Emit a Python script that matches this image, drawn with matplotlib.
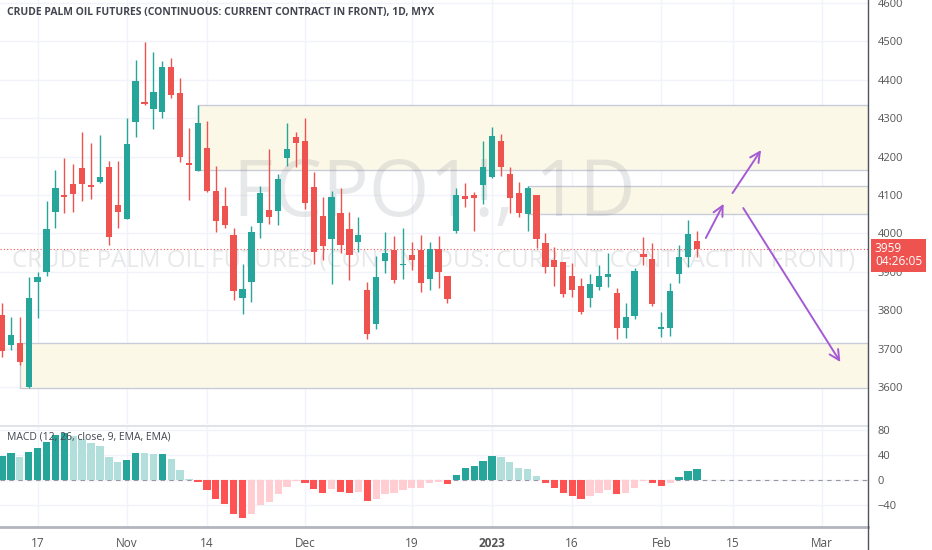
import numpy as np
import matplotlib.pyplot as plt
from matplotlib.patches import Rectangle
from matplotlib.lines import Line2D

plt.rcParams['font.family'] = ['Open Sans', 'DejaVu Sans']

# daily candles, FCPO1!
opens = [3788, 3709, 3715, 3600, 3873, 3899, 4056, 4099, 4129, 4170,
         4125, 4134, 4173, 4074, 4037, 4290, 4342, 4324, 4316, 4433,
         4366, 4183, 4163, 4222, 4110, 4071, 3996, 3832, 3873, 4027,
         4061, 4058, 4196, 4251, 4240, 4121, 4045, 3985, 4053, 4011,
         3978, 3853, 3764, 3928, 3957, 3917, 3944, 3957, 3881, 3959,
         3889, 4006, 4097, 4100, 4126, 4147, 4240, 4155, 4105, 4051,
         4100, 3975, 3931, 3926, 3889, 3863, 3832, 3860, 3886, 3845,
         3754, 3785, 3946, 3933, 3752, 3754, 3894, 3939, 3980]
highs = [3819, 3782, 3782, 3886, 3899, 4084, 4165, 4196, 4181, 4264,
         4235, 4256, 4189, 4189, 4300, 4452, 4498, 4472, 4449, 4457,
         4405, 4274, 4334, 4293, 4176, 4121, 4014, 3920, 4019, 4123,
         4220, 4155, 4287, 4264, 4300, 4160, 4095, 4110, 4118, 4056,
         4043, 3873, 3941, 4004, 3993, 4014, 3978, 3996, 3978, 3993,
         3889, 4118, 4131, 4108, 4240, 4277, 4259, 4173, 4134, 4123,
         4100, 4001, 3965, 3926, 3923, 3884, 3894, 3918, 3949, 3858,
         3819, 3910, 3991, 3975, 3795, 3871, 3970, 4035, 4006]
lows = [3678, 3696, 3657, 3597, 3780, 3889, 4014, 4053, 4056, 4084,
        4090, 4131, 3970, 4014, 4037, 4251, 4334, 4272, 4300, 4353,
        4186, 4087, 4163, 4108, 4004, 4014, 3827, 3790, 3821, 3988,
        4025, 4022, 4176, 4173, 4064, 3920, 3931, 3868, 3949, 3879,
        3952, 3725, 3751, 3897, 3871, 3881, 3905, 3847, 3853, 3858,
        3819, 4001, 4069, 4006, 4077, 4144, 4150, 4053, 4043, 4006,
        3962, 3897, 3863, 3834, 3834, 3790, 3808, 3853, 3860, 3725,
        3728, 3777, 3918, 3811, 3730, 3733, 3871, 3912, 3939]
closes = [3694, 3735, 3665, 3832, 3886, 4011, 4118, 4095, 4103, 4129,
          4121, 4147, 3991, 4056, 4233, 4397, 4338, 4368, 4433, 4360,
          4199, 4179, 4287, 4110, 4032, 4022, 3850, 3855, 4004, 4105,
          4043, 4141, 4220, 4235, 4079, 3952, 3967, 4095, 3970, 3944,
          3996, 3738, 3886, 3949, 3879, 3919, 3931, 3871, 3959, 3899,
          3829, 4100, 4090, 4092, 4173, 4254, 4173, 4092, 4053, 4118,
          3985, 3912, 3912, 3842, 3853, 3795, 3868, 3889, 3894, 3754,
          3782, 3902, 3939, 3816, 3756, 3850, 3939, 3998, 3959]

# MACD (12, 26, 9) histogram
macd_hist = [39, 43, 37, 45, 51, 61, 72, 75, 70, 65,
             60, 54, 37, 29, 32, 44, 43, 41, 42, 34,
             16, 1.6, -2.7, -16, -30, -39, -54, -61, -54, -40,
             -35, -23, -11, -1.6, -5, -15, -20, -15, -19, -21,
             -19, -33, -30, -23, -21, -16, -12, -12, -4, -3,
             -7, 8.5, 19, 23, 31, 39, 37, 29, 20, 17,
             6, -5, -13, -21, -26, -30, -26, -20, -16, -22,
             -21, -12, -2, -4, -9, -4, 5, 14, 17]

tick_pos = [4, 14, 23, 34, 46, 55, 64, 74, 82, 92]
tick_labels = ['17', 'Nov', '14', 'Dec', '19', '2023', '16', 'Feb', '15', 'Mar']
price_ticks = [3600, 3700, 3800, 3900, 4000, 4100, 4200, 4300, 4400, 4500, 4600]
macd_ticks = [-40, 0, 40, 80]

# supply / demand zones drawn on the chart
zone_start = [22, 59, 2]
zone_top = [4334, 4123, 3715]
zone_bottom = [4165, 4051, 3597]

# hand drawn arrows (start -> end)
arrow_from = [(79.0, 3988), (82.0, 4105), (83.2, 4066)]
arrow_to = [(81.0, 4077), (85.2, 4217), (94.1, 3665)]

countdown = '04:26:05'

teal = '#26a69a'
red = '#ef5350'
xmin, xmax = -0.22, 97.2

fig = plt.figure(figsize=(9.32, 5.5), dpi=100)
ax = fig.add_axes([0, 0.2291, 0.9313, 0.7709])
ax2 = fig.add_axes([0, 0.0418, 0.9313, 0.1836], sharex=ax)

x = np.arange(len(opens))
o = np.array(opens)
h = np.array(highs)
l = np.array(lows)
c = np.array(closes)
cols = np.where(c >= o, teal, red)

ax.vlines(x, l, h, colors=cols, lw=1, zorder=4)
ax.bar(x, np.maximum(np.abs(c - o), 4), width=0.7, bottom=np.minimum(o, c),
       color=cols, zorder=5)

for s, t, b in zip(zone_start, zone_top, zone_bottom):
    ax.add_patch(Rectangle((s, b), xmax - s, t - b, fc='#fcf8e8', ec='#c9ccd8',
                           lw=1, zorder=1))

for a, b in zip(arrow_from, arrow_to):
    ax.annotate('', xy=b, xytext=a,
                arrowprops=dict(arrowstyle='->', color='#a55ad4', lw=1.4,
                                mutation_scale=18, shrinkA=0, shrinkB=0),
                zorder=6)

# watermark
ax.text(0.5, 0.538, 'FCPO1!, 1D', transform=ax.transAxes, ha='center', va='center',
        fontsize=56, color='#9598a1', alpha=0.22, zorder=2)
ax.text(0.5, 0.384, 'CRUDE PALM OIL FUTURES (CONTINUOUS: CURRENT CONTRACT IN FRONT)',
        transform=ax.transAxes, ha='center', va='center', fontsize=17.3,
        color='#9598a1', alpha=0.22, zorder=2)

ax.axhline(c[-1], color=red, lw=0.8, ls=(0, (1, 2)), zorder=3)
ax.annotate('%d\n%s' % (c[-1], countdown), xy=(1.0, c[-1]),
            xycoords=('axes fraction', 'data'), xytext=(5, 5),
            textcoords='offset points', ha='left', va='top', fontsize=8.6,
            color='white', linespacing=1.0, annotation_clip=False,
            bbox=dict(boxstyle='square,pad=0.3', fc=red, ec='none'))

ax.set_xlim(xmin, xmax)
ax.set_ylim(3503.6, 4607.8)
ax.set_yticks(price_ticks)
ax.set_xticks(tick_pos)
ax.yaxis.tick_right()
ax.tick_params(axis='y', length=0, pad=7, labelsize=8, labelcolor='#555555')
ax.tick_params(axis='x', length=0, labelbottom=False)
ax.grid(color='#f0f3fa', lw=1, zorder=0)
ax.set_axisbelow(True)
for sp in ax.spines.values():
    sp.set_visible(False)

# MACD pane
hist = np.array(macd_hist)
prev = np.concatenate([[hist[0] - 1], hist[:-1]])
hcols = np.where(hist >= 0,
                 np.where(hist > prev, teal, '#b2dfdb'),
                 np.where(hist < prev, '#ff5252', '#ffcdd2'))
ax2.bar(x, hist, width=0.82, color=hcols, zorder=3)
ax2.axhline(0, color='#9598a1', lw=0.8, ls=(0, (4, 4)), zorder=2)
ax2.set_ylim(-75.2, 86.4)
ax2.set_yticks(macd_ticks)
ax2.yaxis.tick_right()
ax2.tick_params(axis='y', length=0, pad=7, labelsize=8, labelcolor='#555555')
ax2.set_xticks(tick_pos, tick_labels)
ax2.tick_params(axis='x', length=0, pad=7, labelsize=8.5, labelcolor='#555555')
ax2.get_xticklabels()[5].set_fontweight('bold')
ax2.grid(color='#f0f3fa', lw=1, zorder=0)
ax2.set_axisbelow(True)
for sp in ax2.spines.values():
    sp.set_visible(False)
ax2.spines['bottom'].set_visible(True)
ax2.spines['bottom'].set_color('#b2b5be')
ax2.spines['bottom'].set_linewidth(2)
ax2.spines['top'].set_visible(True)
ax2.spines['top'].set_color('#e0e3eb')
ax2.spines['top'].set_linewidth(1.5)

fig.add_artist(Line2D([0.9313, 0.9313], [0, 1], color='#50535e', lw=1))

fig.text(7 / 932, 1 - 13 / 550,
         'CRUDE PALM OIL FUTURES (CONTINUOUS: CURRENT CONTRACT IN FRONT), 1D, MYX',
         fontsize=7.5, fontweight='bold', color='#434651', va='center')
fig.text(7 / 932, 1 - 437 / 550, 'MACD (12, 26, close, 9, EMA, EMA)',
         fontsize=7.5, color='#434651', va='center')

fig.savefig('out.png', dpi=100)
